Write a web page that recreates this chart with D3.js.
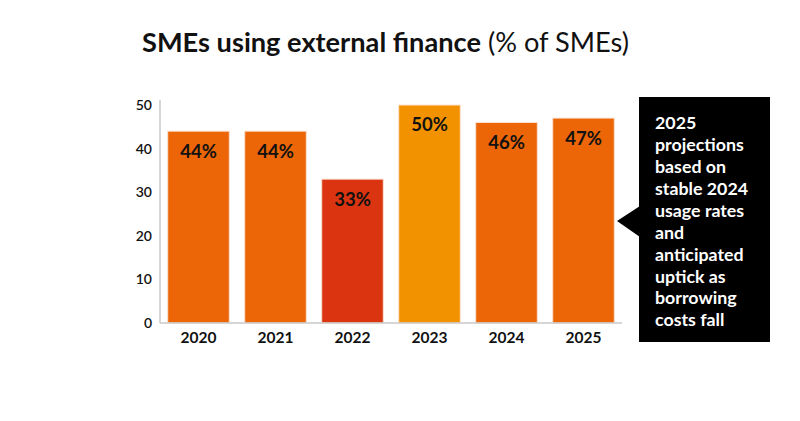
<!DOCTYPE html>
<html>
<head>
<meta charset="utf-8">
<script src="https://cdn.jsdelivr.net/npm/d3@7"></script>
<style>
  body { margin: 0; background: #fff; }
  svg { display: block; }
</style>
</head>
<body>
<div id="chart"></div>
<script>
// Data
const years  = ["2020", "2021", "2022", "2023", "2024", "2025"];
const values = [44, 44, 33, 50, 46, 47];
const barColors = ["#EC6608", "#EC6608", "#DA3510", "#F39200", "#EC6608", "#EC6608"];
const yTicks = [0, 10, 20, 30, 40, 50];
const noteLines = ["2025", "projections", "based on", "stable 2024", "usage rates", "and", "anticipated", "uptick as", "borrowing", "costs fall"];

const W = 800, H = 421;
const font = "Lato, 'Open Sans', sans-serif";

const svg = d3.select("#chart").append("svg")
  .attr("width", W).attr("height", H);

// Title
const title = svg.append("text")
  .attr("x", 142).attr("y", 52)
  .style("font-family", font)
  .style("font-size", "27.2px")
  .style("fill", "#111");
title.append("tspan").style("font-weight", 700).text("SMEs using external finance");
title.append("tspan").style("font-weight", 400).text(" (% of SMEs)");

// Scales
const x = d3.scaleBand().domain(years).range([160, 622]).paddingInner(0.2).paddingOuter(0.1);
const y = d3.scaleLinear().domain([0, 50]).range([323, 105]);

// Y axis labels
svg.selectAll(".ytick")
  .data(yTicks)
  .enter().append("text")
  .attr("x", 152)
  .attr("y", d => y(d))
  .attr("dy", "0.35em")
  .attr("text-anchor", "end")
  .style("font-family", font)
  .style("font-size", "14px")
  .style("font-weight", 600)
  .style("fill", "#111")
  .text(d => d);

// Bars
svg.selectAll(".bar")
  .data(values)
  .enter().append("rect")
  .attr("x", (d, i) => x(years[i]))
  .attr("y", d => y(d))
  .attr("width", x.bandwidth())
  .attr("height", d => y(0) - y(d))
  .attr("fill", (d, i) => barColors[i])
  .attr("stroke", "#FCE3D3")
  .attr("stroke-width", 1);

// Axis lines
svg.append("line")
  .attr("x1", 160).attr("x2", 160)
  .attr("y1", 100).attr("y2", 323)
  .attr("stroke", "#c8c8c8").attr("stroke-width", 1.5);
svg.append("line")
  .attr("x1", 160).attr("x2", 622)
  .attr("y1", 323).attr("y2", 323)
  .attr("stroke", "#c8c8c8").attr("stroke-width", 1.5);

// Value labels
svg.selectAll(".val")
  .data(values)
  .enter().append("text")
  .attr("x", (d, i) => x(years[i]) + x.bandwidth() / 2)
  .attr("y", d => y(d) + 20)
  .attr("dy", "0.35em")
  .attr("text-anchor", "middle")
  .style("font-family", font)
  .style("font-size", "18.5px")
  .style("font-weight", 700)
  .style("fill", "#111")
  .text(d => d + "%");

// X labels
svg.selectAll(".xlab")
  .data(years)
  .enter().append("text")
  .attr("x", d => x(d) + x.bandwidth() / 2)
  .attr("y", 338)
  .attr("dy", "0.35em")
  .attr("text-anchor", "middle")
  .style("font-family", font)
  .style("font-size", "15.5px")
  .style("font-weight", 700)
  .style("fill", "#111")
  .text(d => d);

// Callout box with pointer
const box = { x: 639, y: 97, w: 131, h: 245 };
svg.append("rect")
  .attr("x", box.x).attr("y", box.y)
  .attr("width", box.w).attr("height", box.h)
  .attr("fill", "#000");
svg.append("path")
  .attr("d", `M${box.x + 1},206 L617,221 L${box.x + 1},237 Z`)
  .attr("fill", "#000");

svg.selectAll(".note")
  .data(noteLines)
  .enter().append("text")
  .attr("x", 655)
  .attr("y", (d, i) => 123 + i * 21.9)
  .attr("dy", "0.35em")
  .style("font-family", font)
  .style("font-size", "17.8px")
  .style("font-weight", 700)
  .style("fill", "#fff")
  .text(d => d);
</script>
</body>
</html>
